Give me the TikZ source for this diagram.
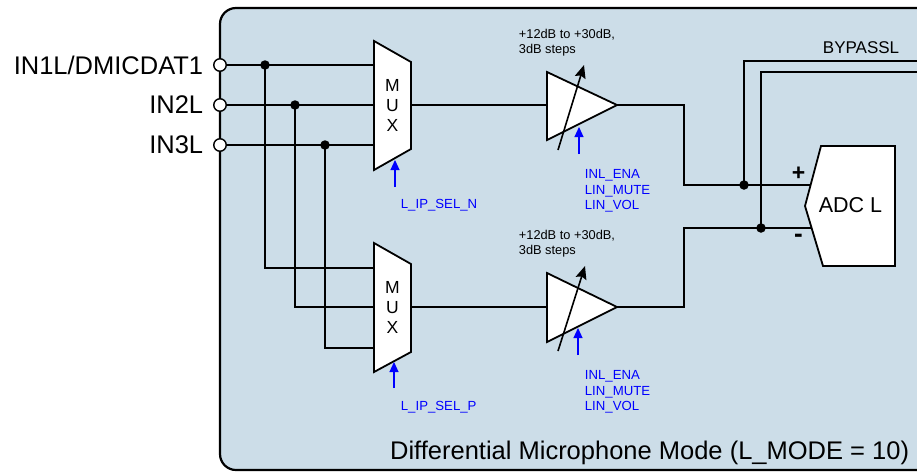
\documentclass[tikz,border=0pt]{standalone}
\usepackage{fontspec}
\setmainfont{Liberation Sans}
\usetikzlibrary{arrows.meta,positioning}
\definecolor{panelblue}{RGB}{204,221,232}
\definecolor{ctrlblue}{RGB}{0,0,255}

\begin{document}
\begin{tikzpicture}[x=1pt,y=-1pt,line width=1.8pt,
    pinring/.style={circle,draw,fill=white,minimum size=12.5pt,line width=1.4pt},
    junction/.style={circle,fill=black,minimum size=9.5pt},
    blocksh/.style={draw,fill=white,line width=1.8pt},
    ctrl/.style={ctrlblue,line width=1.1pt,-{Triangle[length=10pt,width=9pt]}},
    ctrltext/.style={text=ctrlblue,font=\fontsize{13.2}{15.5}\selectfont,align=left},
    gaintext/.style={font=\fontsize{12.8}{15}\selectfont,align=left},
    pinlabel/.style={font=\fontsize{25.5}{28}\selectfont}]
        \tikzstyle{every node}+=[inner sep=0pt]
        \useasboundingbox (0,0) rectangle (917,472);
        % panel
        \begin{scope}
            \clip (0,0) rectangle (917,472);
            \draw [line width=2.2pt, fill=panelblue, rounded corners=16pt] (220,8) rectangle (950,470);
        \end{scope}

        % input pins
        \node [pinring] (in1) at (220,65) {};
        \node [pinring] (in2) at (220,105) {};
        \node [pinring] (in3) at (220,145) {};
        \node [pinlabel, left=9pt of in1] {IN1L/DMICDAT1};
        \node [pinlabel, left=9pt of in2] {IN2L};
        \node [pinlabel, left=9pt of in3] {IN3L};

        % mux inputs
        \coordinate (muxa-1) at (374,65);
        \coordinate (muxa-2) at (374,105);
        \coordinate (muxa-3) at (374,145);
        \coordinate (muxb-1) at (374,268);
        \coordinate (muxb-2) at (374,307);
        \coordinate (muxb-3) at (374,348);
        \draw (in1) -- (muxa-1);
        \draw (in2) -- (muxa-2);
        \draw (in3) -- (muxa-3);
        \node [junction] (j1) at (265,65) {};
        \node [junction] (j2) at (295,105) {};
        \node [junction] (j3) at (325,145) {};
        \draw (j1.center) |- (muxb-1);
        \draw (j2.center) |- (muxb-2);
        \draw (j3.center) |- (muxb-3);

        % mux to amp
        \coordinate (ampa-in) at (547,105);
        \coordinate (ampb-in) at (547,307);
        \coordinate (ampa-out) at (617,105);
        \coordinate (ampb-out) at (617,307);
        \draw (411,105) -- (ampa-in);
        \draw (411,307) -- (ampb-in);

        % muxes
        \draw [blocksh] (374,41) -- (411,62) -- (411,149) -- (374,170) -- cycle;
        \draw [blocksh] (374,243) -- (411,264) -- (411,352) -- (374,372) -- cycle;
        \node [align=center, font=\fontsize{17.5}{20}\selectfont] (muxa) at (392.5,105.5) {M\\U\\X};
        \node [align=center, font=\fontsize{17.5}{20}\selectfont] (muxb) at (392.5,307.5) {M\\U\\X};
        \draw [ctrl] (395,187) -- (395,160);
        \draw [ctrl] (394,388) -- (394,362);
        \node [ctrltext, anchor=north west] (selN) at (400,198) {L\_IP\_SEL\_N};
        \node [ctrltext, anchor=north west] (selP) at (400,400) {L\_IP\_SEL\_P};

        % PGAs
        \draw [blocksh] (547,72) -- (ampa-out) -- (547,140) -- cycle;
        \draw [blocksh] (547,273) -- (ampb-out) -- (547,342) -- cycle;
        \draw [line width=1.6pt, -{Stealth[length=13pt,width=11pt,inset=2pt]}] (558,150) -- (584,65);
        \draw [line width=1.6pt, -{Stealth[length=13pt,width=11pt,inset=2pt]}] (558,351) -- (585,266);
        \draw [ctrl] (579,154) -- (579,127);
        \draw [ctrl] (578,355) -- (578,328);
        \node [gaintext, anchor=north west] (gaina) at (518,28.5) {+12dB to +30dB,\\3dB steps};
        \node [gaintext, anchor=north west] (gainb) at (518,229.5) {+12dB to +30dB,\\3dB steps};
        \node [ctrltext, anchor=north west] (ctla) at (584,169) {INL\_ENA\\LIN\_MUTE\\LIN\_VOL};
        \node [ctrltext, anchor=north west] (ctlb) at (584,370) {INL\_ENA\\LIN\_MUTE\\LIN\_VOL};

        % ADC
        \coordinate (adc-p) at (811,185);
        \coordinate (adc-n) at (811,228);
        \draw (ampa-out) -- ++(67,0) |- (adc-p);
        \draw (ampb-out) -- ++(67,0) |- (adc-n);
        \node [junction] (jp) at (744,185) {};
        \node [junction] (jn) at (761,228) {};
        \coordinate (bypa) at (917,61);
        \coordinate (bypb) at (917,72);
        \draw (jp.center) |- (bypa);
        \draw (jn.center) |- (bypb);
        \draw [blocksh] (821,146) -- (895,146) -- (895,266) -- (823,266) -- (805,206) -- cycle;
        \node [font=\fontsize{21.5}{24}\selectfont] (adc) at (850.5,205) {ADC L};
        \node [font=\bfseries\fontsize{23}{26}\selectfont] (plus) at (798.5,174) {+};
        \node [font=\bfseries\fontsize{26}{28}\selectfont] (minus) at (798.5,238) {-};
        \node [font=\fontsize{17}{20}\selectfont, anchor=north west] (byp) at (822,41) {BYPASSL};

        \node [font=\fontsize{25.5}{28}\selectfont, anchor=base east] (mode) at (910,459) {Differential Microphone Mode (L\_MODE = 10)};
    \end{tikzpicture}
\end{document}
